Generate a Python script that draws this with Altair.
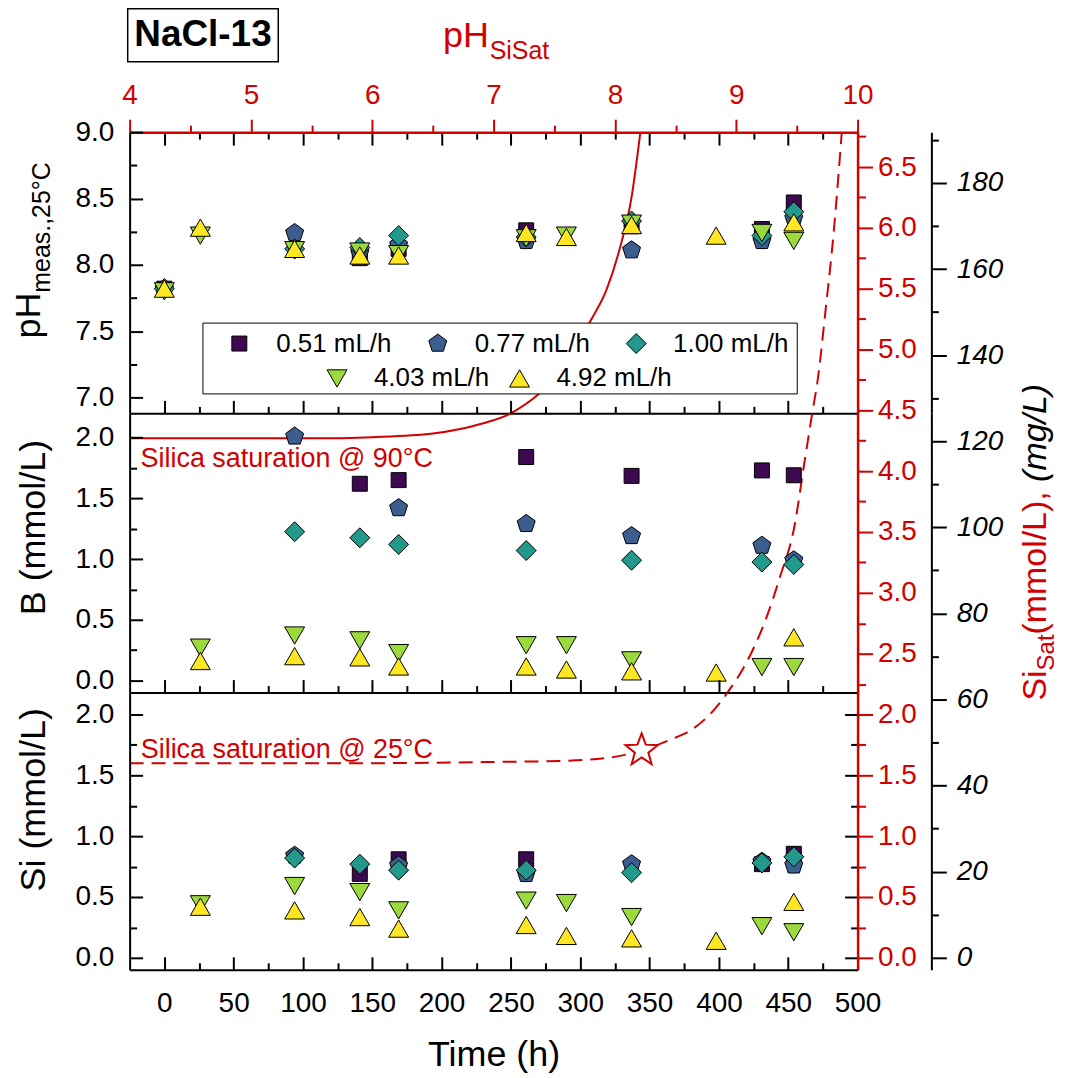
import math
import altair as alt
import pandas as pd

# ------------------------------------------------------------------ data
SERIES = ["0.51 mL/h", "0.77 mL/h", "1.00 mL/h", "4.03 mL/h", "4.92 mL/h"]
COLORS = ["#3d0a51", "#3b5e8f", "#22998a", "#9bd93c", "#fde725"]

# pH (meas., 25 degC): time (h) and value for each flow rate
PH_T_051 = [0, 141, 169, 261, 337, 431, 454]
PH_V_051 = [7.82, 8.05, 8.12, 8.26, 8.29, 8.27, 8.47]
PH_T_077 = [0, 94, 141, 169, 261, 337, 431, 454]
PH_V_077 = [7.82, 8.24, 8.09, 8.15, 8.18, 8.11, 8.18, 8.35]
PH_T_100 = [0, 94, 141, 169, 261, 337, 431, 454]
PH_V_100 = [7.82, 8.12, 8.13, 8.22, 8.21, 8.33, 8.22, 8.40]
PH_T_403 = [0, 26, 94, 141, 169, 261, 290, 337, 431, 454]
PH_V_403 = [7.80, 8.22, 8.11, 8.10, 8.08, 8.20, 8.22, 8.31, 8.24, 8.18]
PH_T_492 = [0, 26, 94, 141, 169, 261, 290, 337, 398, 454]
PH_V_492 = [7.82, 8.28, 8.12, 8.07, 8.07, 8.24, 8.21, 8.30, 8.22, 8.32]

# B (mmol/L)
B_T_051 = [141, 169, 261, 337, 431, 454]
B_V_051 = [1.62, 1.65, 1.84, 1.685, 1.73, 1.69]
B_T_077 = [94, 169, 261, 337, 431, 454]
B_V_077 = [2.01, 1.42, 1.29, 1.19, 1.11, 0.99]
B_T_100 = [94, 141, 169, 261, 337, 431, 454]
B_V_100 = [1.225, 1.175, 1.12, 1.07, 0.99, 0.975, 0.955]
B_T_403 = [26, 94, 141, 169, 261, 290, 337, 431, 454]
B_V_403 = [0.27, 0.37, 0.33, 0.225, 0.29, 0.29, 0.165, 0.11, 0.11]
B_T_492 = [26, 94, 141, 169, 261, 290, 337, 398, 454]
B_V_492 = [0.16, 0.20, 0.19, 0.115, 0.115, 0.09, 0.075, 0.065, 0.355]

# Si (mmol/L)
SI_T_051 = [141, 169, 261, 431, 454]
SI_V_051 = [0.69, 0.81, 0.81, 0.77, 0.855]
SI_T_077 = [94, 169, 261, 337, 431, 454]
SI_V_077 = [0.84, 0.76, 0.69, 0.77, 0.79, 0.76]
SI_T_100 = [94, 141, 169, 261, 337, 431, 454]
SI_V_100 = [0.82, 0.77, 0.72, 0.72, 0.70, 0.78, 0.83]
SI_T_403 = [26, 94, 141, 169, 261, 290, 337, 431, 454]
SI_V_403 = [0.44, 0.59, 0.54, 0.39, 0.47, 0.45, 0.335, 0.26, 0.21]
SI_T_492 = [26, 94, 141, 169, 261, 290, 337, 398, 454]
SI_V_492 = [0.42, 0.39, 0.335, 0.24, 0.27, 0.18, 0.16, 0.14, 0.46]

# silica saturation curves: pH_SiSat vs Si_Sat (mmol/L)
SAT90_PH = [4.0, 5.0, 5.5, 6.0, 6.5, 6.9, 7.13, 7.38, 7.60, 7.79, 7.93, 8.04, 8.135, 8.21]
SAT90_SI = [4.27, 4.27, 4.27, 4.28, 4.31, 4.39, 4.47, 4.64, 4.86, 5.22, 5.49, 5.83, 6.24, 6.79]
SAT25_PH = [4.0, 5.0, 6.0, 7.0, 7.6, 8.04, 8.22, 8.45, 8.64, 8.80, 8.92, 9.08, 9.25,
            9.36, 9.48, 9.56, 9.63, 9.67, 9.74, 9.80, 9.87]
SAT25_SI = [1.60, 1.60, 1.60, 1.61, 1.62, 1.66, 1.705, 1.79, 1.88, 2.02, 2.17, 2.42, 2.80,
            3.13, 3.55, 4.06, 4.50, 4.74, 5.36, 5.93, 6.79]
STAR_PH = [8.22]
STAR_SI = [1.705]

# ------------------------------------------------------------------ style / geometry
FONT = "Liberation Sans"
RED = "#d20000"
TICK_FS, TITLE_FS, LEG_FS, NOTE_FS = 28, 36, 26, 27
W = 730
H_TOP, H_MID, H_BOT = 282, 280, 278
T_DOM = [-25, 500]
PHSAT_DOM = [4, 10]
PH_DOM = [6.88, 9.0]
B_DOM = [-0.1, 2.2]
SAT_PX = 122.0      # px per mmol/L on the Si_Sat axis
MG_PX = 4.3167      # px per mg/L
ZERO_PX = 12.0      # px between bottom frame and 0 on right axes

sat_b0 = -ZERO_PX / SAT_PX
sat_b1 = sat_b0 + H_BOT / SAT_PX
sat_m1 = sat_b1 + H_MID / SAT_PX
sat_t1 = sat_m1 + H_TOP / SAT_PX
SAT_DOM = {"top": [sat_m1, sat_t1], "mid": [sat_b1, sat_m1], "bot": [sat_b0, sat_b1]}
mg_b0 = -ZERO_PX / MG_PX
mg_b1 = mg_b0 + H_BOT / MG_PX
mg_m1 = mg_b1 + H_MID / MG_PX
mg_t1 = mg_m1 + H_TOP / MG_PX
MG_DOM = {"top": [mg_m1, mg_t1], "mid": [mg_b1, mg_m1], "bot": [mg_b0, mg_b1]}
SI_DOM = SAT_DOM["bot"]


def steps(lo, hi, step):
    n = int(round((hi - lo) / step))
    return [round(lo + i * step, 6) for i in range(n + 1)]


def inside(vals, dom):
    return [v for v in vals if dom[0] - 1e-9 <= v <= dom[1] + 1e-9]


T_MAJ, T_MIN = steps(0, 500, 50), steps(25, 475, 50)
PHSAT_MAJ, PHSAT_MIN = steps(4, 10, 1), steps(4.5, 9.5, 1)
PH_MAJ, PH_MIN = steps(7.0, 9.0, 0.5), steps(7.25, 8.75, 0.5)
BSI_MAJ, BSI_MIN = steps(0, 2, 0.5), steps(0.25, 1.75, 0.5)
SAT_MAJ, SAT_MIN = steps(0, 6.5, 0.5), steps(0.25, 6.75, 0.5)
MG_MAJ, MG_MIN = steps(0, 180, 20), steps(10, 190, 20)


def polygon_path(radii):
    n = len(radii)
    parts = []
    for k, r in enumerate(radii):
        a = math.radians(-90 + 360.0 * k / n)
        parts.append(("M" if k == 0 else "L") + f"{r * math.cos(a):.4f},{r * math.sin(a):.4f}")
    return "".join(parts) + "Z"


SQUARE = "M-0.75,-0.75L0.75,-0.75L0.75,0.75L-0.75,0.75Z"
PENTAGON = polygon_path([0.95] * 5)
STAR = polygon_path([1.0, 0.42] * 5)
SHAPES = [SQUARE, PENTAGON, "diamond", "triangle-down", "triangle-up"]


def long_frame(t_lists, v_lists):
    frames = [pd.DataFrame({"x": ts, "y": vs, "series": name})
              for name, ts, vs in zip(SERIES, t_lists, v_lists)]
    return pd.concat(frames, ignore_index=True)


ph_df = long_frame([PH_T_051, PH_T_077, PH_T_100, PH_T_403, PH_T_492],
                   [PH_V_051, PH_V_077, PH_V_100, PH_V_403, PH_V_492])
b_df = long_frame([B_T_051, B_T_077, B_T_100, B_T_403, B_T_492],
                  [B_V_051, B_V_077, B_V_100, B_V_403, B_V_492])
si_df = long_frame([SI_T_051, SI_T_077, SI_T_100, SI_T_403, SI_T_492],
                   [SI_V_051, SI_V_077, SI_V_100, SI_V_403, SI_V_492])
sat90_df = pd.DataFrame({"x": SAT90_PH, "y": SAT90_SI})
sat25_df = pd.DataFrame({"x": SAT25_PH, "y": SAT25_SI})
star_df = pd.DataFrame({"x": STAR_PH, "y": STAR_SI})


# ------------------------------------------------------------------ helpers
def sc(dom):
    return alt.Scale(domain=list(dom), nice=False, zero=False)


def tick_axis(orient, values, size, color="black", inward=True, offset=0):
    return alt.Axis(orient=orient, values=values, title=None, labels=False, domain=False,
                    grid=False, ticks=True, tickSize=size, tickWidth=2, tickColor=color,
                    offset=(-size if inward else offset), zindex=1)


def bare_axis(orient):
    return alt.Axis(orient=orient, values=[], title=None, labels=False, ticks=False,
                    tickSize=0, grid=False, domain=True, domainColor="black",
                    domainWidth=2, zindex=1)


def lab_axis(orient, values, fmt, color="black", tick=0, pad=0, offset=0, dwidth=2,
             title=None, italic=False, **extra):
    kw = dict(orient=orient, values=values, format=fmt, grid=False, labels=True,
              labelFont=FONT, labelFontSize=TICK_FS, labelColor=color, labelPadding=pad,
              labelFlush=False, labelOverlap=False, domain=True, domainColor=color,
              domainWidth=dwidth, offset=offset, zindex=1, title=title)
    if tick > 0:
        kw.update(ticks=True, tickSize=tick, tickWidth=2, tickColor=color)
    else:
        kw.update(ticks=False, tickSize=0)
    if italic:
        kw["labelFontStyle"] = "italic"
    if title is not None:
        kw.update(titleFont=FONT, titleFontSize=TITLE_FS, titleFontWeight="normal",
                  titleColor="black")
    kw.update(extra)
    return alt.Axis(**kw)


def enc(xdom, ydom, xaxis=None, yaxis=None):
    return dict(x=alt.X("x:Q", scale=sc(xdom), axis=xaxis),
                y=alt.Y("y:Q", scale=sc(ydom), axis=yaxis))


def ghost(xdom, ydom, xaxis=None, yaxis=None):
    df = pd.DataFrame({"x": [(xdom[0] + xdom[1]) / 2], "y": [(ydom[0] + ydom[1]) / 2]})
    return alt.Chart(df).mark_point(opacity=0, size=1).encode(**enc(xdom, ydom, xaxis, yaxis))


LEG_COMMON = dict(orient="none", direction="horizontal", labelFont=FONT, labelFontSize=LEG_FS,
                  labelColor="black", labelLimit=400, labelOffset=24, symbolSize=400,
                  symbolStrokeColor="black", symbolStrokeWidth=1, columnPadding=17)
# first row (boxed, with an empty bottom title reserving room for the second row)
LEGEND_A = alt.Legend(legendX=73, legendY=191, columns=3, title="\u00a0", titleOrient="bottom",
                      titleFontSize=LEG_FS, titlePadding=3, symbolOffset=16, rowPadding=3,
                      padding=8, strokeColor="black", fillColor="white", **LEG_COMMON)
# second row, centred under the first
LEGEND_B = alt.Legend(legendX=195, legendY=234, columns=2, title=None, padding=0,
                      symbolOffset=0, zindex=2, **LEG_COMMON)


def points(df, ydom, xaxis, yaxis, legends):
    out = []
    for k, (names, legend) in enumerate([(SERIES[:3], legends[0]), (SERIES[3:], legends[1])]):
        cols = COLORS[:3] if k == 0 else COLORS[3:]
        shp = SHAPES[:3] if k == 0 else SHAPES[3:]
        sub = df[df["series"].isin(names)]
        out.append(alt.Chart(sub).mark_point(filled=True, size=400, opacity=1, stroke="black",
                                             strokeWidth=1).encode(
            color=alt.Color("series:N", scale=alt.Scale(domain=names, range=cols), legend=legend),
            shape=alt.Shape("series:N", scale=alt.Scale(domain=names, range=shp), legend=legend),
            **enc(T_DOM, ydom, xaxis if k == 0 else None, yaxis if k == 0 else None),
        ))
    return out


def note(xv, yv, xdom, ydom, **mark):
    df = pd.DataFrame({"x": [xv], "y": [yv]})
    return alt.Chart(df).mark_text(**mark).encode(**enc(xdom, ydom))


def curve_layers(ydom, xaxis=None, yaxis=None):
    solid = alt.Chart(sat90_df).mark_line(color=RED, strokeWidth=2, clip=True,
                                          interpolate="monotone").encode(
        **enc(PHSAT_DOM, ydom, xaxis, yaxis))
    dashed = alt.Chart(sat25_df).mark_line(color=RED, strokeWidth=2, clip=True,
                                           strokeDash=[14, 8], interpolate="monotone").encode(
        **enc(PHSAT_DOM, ydom))
    return [solid, dashed]


def right_axes(key):
    sd, md = SAT_DOM[key], MG_DOM[key]
    return [
        ghost(PHSAT_DOM, sd, yaxis=tick_axis("right", inside(SAT_MIN, sd), 8, color=RED,
                                             inward=False)),
        ghost(PHSAT_DOM, md, yaxis=lab_axis("right", inside(MG_MAJ, md), "d", tick=15, pad=10,
                                            offset=74, italic=True)),
        ghost(PHSAT_DOM, md, yaxis=tick_axis("right", inside(MG_MIN, md), 7, inward=False,
                                             offset=74)),
    ]


def sat_axis(key):
    return lab_axis("right", inside(SAT_MAJ, SAT_DOM[key]), ".1f", color=RED, tick=15, pad=5,
                    dwidth=2.5)


def panel(layers, height):
    return alt.layer(*layers).resolve_scale(
        x="independent", y="independent", color="independent", shape="independent"
    ).properties(width=W, height=height)


# ------------------------------------------------------------------ top panel (pH)
top_layers = [
    ghost(T_DOM, PH_DOM, xaxis=tick_axis("bottom", T_MAJ, 13), yaxis=tick_axis("left", PH_MAJ, 13)),
    ghost(T_DOM, PH_DOM, xaxis=tick_axis("bottom", T_MIN, 7), yaxis=tick_axis("left", PH_MIN, 7)),
    ghost(T_DOM, PH_DOM, xaxis=tick_axis("top", T_MAJ, 13)),
    ghost(T_DOM, PH_DOM, xaxis=tick_axis("top", T_MIN, 7)),
    ghost(PHSAT_DOM, SAT_DOM["top"], xaxis=tick_axis("top", PHSAT_MIN, 7, color=RED,
                                                     inward=False)),
] + curve_layers(SAT_DOM["top"],
                 xaxis=lab_axis("top", PHSAT_MAJ, "d", color=RED, tick=13, pad=10, dwidth=2.5),
                 yaxis=sat_axis("top")) + right_axes("top") + points(
    ph_df, PH_DOM, bare_axis("bottom"), lab_axis("left", PH_MAJ, ".1f", pad=16),
    (LEGEND_A, LEGEND_B)) + [
    alt.Chart(pd.DataFrame({"x": [-26.4], "x2": [82.2], "y": [9.53], "y2": [9.93]}))
    .mark_rect(fill="white", stroke="black", strokeWidth=1.5)
    .encode(x2="x2:Q", y2="y2:Q", **enc(T_DOM, PH_DOM)),
    note(27.9, 9.73, T_DOM, PH_DOM, text="NaCl-13", fontSize=37, fontWeight="bold",
         align="center", baseline="middle", color="black"),
    note(-89.7, 7.444, T_DOM, PH_DOM, text="pH", fontSize=TITLE_FS, angle=270,
         align="left", baseline="alphabetic", color="black"),
    note(-82.5, 7.444 + 1.278 * TITLE_FS / 133.0, T_DOM, PH_DOM, text="meas.,25°C",
         fontSize=25, angle=270, align="left", baseline="alphabetic", color="black"),
    note(6.962, 7.484, PHSAT_DOM, SAT_DOM["top"], text="pH", fontSize=TITLE_FS,
         align="right", baseline="alphabetic", color=RED),
    note(6.968, 7.385, PHSAT_DOM, SAT_DOM["top"], text="SiSat", fontSize=25,
         align="left", baseline="alphabetic", color=RED),
]
top = panel(top_layers, H_TOP)

# ------------------------------------------------------------------ middle panel (B)
RT_FS, RT_SUB_FS = 34, 24
rt_s0 = 2.115
rt_s1 = rt_s0 + 0.889 * RT_FS / SAT_PX
rt_s2 = rt_s1 + 1.501 * RT_SUB_FS / SAT_PX
rt_s3 = rt_s2 + 4.50 * RT_FS / SAT_PX
RT_MAIN_P, RT_SUB_P = 11.553, 11.619
md = SAT_DOM["mid"]

mid_layers = [
    ghost(T_DOM, B_DOM, xaxis=tick_axis("bottom", T_MAJ, 13), yaxis=tick_axis("left", BSI_MAJ, 13)),
    ghost(T_DOM, B_DOM, xaxis=tick_axis("bottom", T_MIN, 7), yaxis=tick_axis("left", BSI_MIN, 7)),
] + curve_layers(md, yaxis=sat_axis("mid")) + right_axes("mid") + points(
    b_df, B_DOM, bare_axis("bottom"),
    lab_axis("left", BSI_MAJ, ".1f", pad=16, title="B (mmol/L)", titleY=114, titlePadding=22),
    (None, None)) + [
    note(-17.1, 1.759, T_DOM, B_DOM, text="Silica saturation @ 90°C", fontSize=NOTE_FS,
         align="left", baseline="alphabetic", color=RED),
    note(RT_MAIN_P, rt_s0, PHSAT_DOM, md, text="Si", fontSize=RT_FS, angle=270,
         align="left", baseline="alphabetic", color=RED),
    note(RT_SUB_P, rt_s1, PHSAT_DOM, md, text="Sat", fontSize=RT_SUB_FS, angle=270,
         align="left", baseline="alphabetic", color=RED),
    note(RT_MAIN_P, rt_s2, PHSAT_DOM, md, text="(mmol/L),", fontSize=RT_FS, angle=270,
         align="left", baseline="alphabetic", color=RED),
    note(RT_MAIN_P, rt_s3, PHSAT_DOM, md, text="(mg/L)", fontSize=RT_FS, angle=270,
         align="left", baseline="alphabetic", color="black", fontStyle="italic"),
]
mid = panel(mid_layers, H_MID)

# ------------------------------------------------------------------ bottom panel (Si)
bot_layers = [
    ghost(T_DOM, SI_DOM, xaxis=tick_axis("bottom", T_MAJ, 13), yaxis=tick_axis("left", BSI_MAJ, 13)),
    ghost(T_DOM, SI_DOM, xaxis=tick_axis("bottom", T_MIN, 7), yaxis=tick_axis("left", BSI_MIN, 7)),
    ghost(T_DOM, SI_DOM, yaxis=tick_axis("right", BSI_MAJ, 13)),
    ghost(T_DOM, SI_DOM, yaxis=tick_axis("right", BSI_MIN, 7)),
] + curve_layers(SAT_DOM["bot"], yaxis=sat_axis("bot")) + right_axes("bot") + [
    alt.Chart(star_df).mark_point(shape=STAR, size=1156, filled=True, fill="white",
                                  stroke=RED, strokeWidth=2, opacity=1)
    .encode(**enc(PHSAT_DOM, SAT_DOM["bot"])),
] + points(
    si_df, SI_DOM,
    lab_axis("bottom", T_MAJ, "d", pad=20, title="Time (h)", titlePadding=20),
    lab_axis("left", BSI_MAJ, ".1f", pad=16, title="Si (mmol/L)", titleY=107, titlePadding=22),
    (None, None)) + [
    note(-17.0, 1.645, T_DOM, SI_DOM, text="Silica saturation @ 25°C", fontSize=NOTE_FS,
         align="left", baseline="alphabetic", color=RED),
]
bot = panel(bot_layers, H_BOT)

chart = (
    alt.vconcat(top, mid, bot, spacing=0, bounds="flush")
    .resolve_scale(color="independent", shape="independent")
    .properties(padding={"left": 10, "top": 6, "right": 5, "bottom": 5}, background="white")
    .configure(font=FONT)
    .configure_view(stroke="transparent")
    .configure_axis(minExtent=0)
)

chart.save("out.html", embed_options={"renderer": "svg", "actions": False})
